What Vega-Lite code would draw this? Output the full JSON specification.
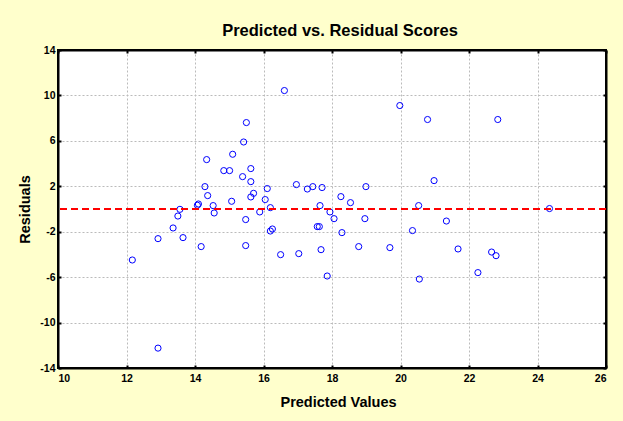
{
  "$schema": "https://vega.github.io/schema/vega-lite/v6.json",
  "autosize": {"type": "none"},
  "width": 548,
  "height": 318,
  "padding": {"left": 58, "top": 50, "right": 17, "bottom": 53},
  "background": "#FFFFCC",
  "title": {"text": "Predicted vs. Residual Scores", "fontSize": 16.5, "font": "Liberation Sans", "fontWeight": "bold", "color": "#000000", "offset": 6, "anchor": "middle", "dx": 8},
  "data": {"values": [
    {"pred": 15.50, "res": 7.61}, {"pred": 15.42, "res": 5.90}, {"pred": 15.10, "res": 4.82},
    {"pred": 14.34, "res": 4.35}, {"pred": 14.84, "res": 3.38}, {"pred": 15.01, "res": 3.38},
    {"pred": 15.63, "res": 3.56}, {"pred": 15.39, "res": 2.85}, {"pred": 15.63, "res": 2.41},
    {"pred": 14.29, "res": 1.97}, {"pred": 14.37, "res": 1.18}, {"pred": 15.71, "res": 1.38},
    {"pred": 15.63, "res": 1.06}, {"pred": 15.07, "res": 0.68}, {"pred": 16.11, "res": 1.80},
    {"pred": 16.05, "res": 0.83}, {"pred": 16.96, "res": 2.15}, {"pred": 14.07, "res": 0.33},
    {"pred": 14.10, "res": 0.44}, {"pred": 14.53, "res": 0.30}, {"pred": 14.56, "res": -0.35},
    {"pred": 13.56, "res": -0.03}, {"pred": 13.50, "res": -0.62}, {"pred": 13.36, "res": -1.67},
    {"pred": 12.92, "res": -2.61}, {"pred": 13.65, "res": -2.52}, {"pred": 12.17, "res": -4.49},
    {"pred": 14.18, "res": -3.31}, {"pred": 15.48, "res": -0.93}, {"pred": 15.48, "res": -3.22},
    {"pred": 15.89, "res": -0.26}, {"pred": 16.20, "res": 0.12}, {"pred": 16.20, "res": -1.94},
    {"pred": 16.26, "res": -1.76}, {"pred": 16.50, "res": -4.02}, {"pred": 17.03, "res": -3.93},
    {"pred": 16.61, "res": 10.43}, {"pred": 19.98, "res": 9.11}, {"pred": 20.79, "res": 7.88},
    {"pred": 22.84, "res": 7.88}, {"pred": 20.98, "res": 2.50}, {"pred": 17.28, "res": 1.76},
    {"pred": 17.44, "res": 1.97}, {"pred": 17.71, "res": 1.89}, {"pred": 18.99, "res": 1.97},
    {"pred": 18.26, "res": 1.09}, {"pred": 18.54, "res": 0.56}, {"pred": 17.65, "res": 0.30},
    {"pred": 17.94, "res": -0.26}, {"pred": 18.06, "res": -0.85}, {"pred": 18.96, "res": -0.85},
    {"pred": 17.57, "res": -1.55}, {"pred": 17.63, "res": -1.55}, {"pred": 18.29, "res": -2.08},
    {"pred": 17.68, "res": -3.58}, {"pred": 18.78, "res": -3.31}, {"pred": 19.69, "res": -3.40},
    {"pred": 17.86, "res": -5.90}, {"pred": 20.53, "res": 0.30}, {"pred": 20.35, "res": -1.90},
    {"pred": 21.34, "res": -1.06}, {"pred": 21.68, "res": -3.52}, {"pred": 22.66, "res": -3.79},
    {"pred": 22.79, "res": -4.11}, {"pred": 22.26, "res": -5.60}, {"pred": 20.55, "res": -6.17},
    {"pred": 24.35, "res": 0.04}, {"pred": 12.92, "res": -12.25}
  ]},
  "layer": [
    {
      "mark": {"type": "point", "shape": "circle", "filled": false, "stroke": "#0000FF", "strokeWidth": 1, "size": 38, "opacity": 1},
      "encoding": {
        "x": {"field": "pred", "type": "quantitative", "title": "Predicted Values",
              "scale": {"domain": [10, 26], "nice": false, "zero": false},
              "axis": {"values": [10, 12, 14, 16, 18, 20, 22, 24, 26], "tickSize": -3, "labelPadding": 8, "titlePadding": 12, "titleX": 280, "labelExpr": "'' + datum.value"}},
        "y": {"field": "res", "type": "quantitative", "title": "Residuals",
              "scale": {"domain": [-14, 14], "nice": false, "zero": false},
              "axis": {"values": [-14, -10, -6, -2, 2, 6, 10, 14], "tickSize": -3, "labelPadding": 6, "titlePadding": 7, "labelExpr": "'' + datum.value"}}
      }
    },
    {
      "mark": {"type": "point", "opacity": 0},
      "encoding": {
        "x": {"field": "pred", "type": "quantitative",
              "axis": {"orient": "top", "values": [10, 12, 14, 16, 18, 20, 22, 24, 26], "tickSize": -3, "labels": false, "grid": false, "title": null}},
        "y": {"field": "res", "type": "quantitative",
              "axis": {"orient": "right", "values": [-14, -10, -6, -2, 2, 6, 10, 14], "tickSize": -3, "labels": false, "grid": false, "title": null}}
      }
    },
    {
      "mark": {"type": "rule", "color": "#FF0000", "strokeWidth": 2, "strokeDash": [7, 4]},
      "encoding": {"y": {"datum": 0, "type": "quantitative", "axis": null}}
    }
  ],
  "resolve": {"axis": {"x": "independent", "y": "independent"}},
  "config": {
    "view": {"stroke": "#000000", "strokeWidth": 2, "fill": "#FFFFFF"},
    "axis": {
      "domain": true, "domainColor": "#000000", "domainWidth": 2,
      "tickColor": "#000000", "tickWidth": 2,
      "grid": true, "gridColor": "#BBBBBB", "gridDash": [2, 2], "gridWidth": 1,
      "labelFont": "Liberation Sans", "labelFontSize": 10.5, "labelFontWeight": "bold", "labelColor": "#000000",
      "titleFont": "Liberation Sans", "titleFontSize": 14.5, "titleFontWeight": "bold", "titleColor": "#000000"
    }
  }
}
